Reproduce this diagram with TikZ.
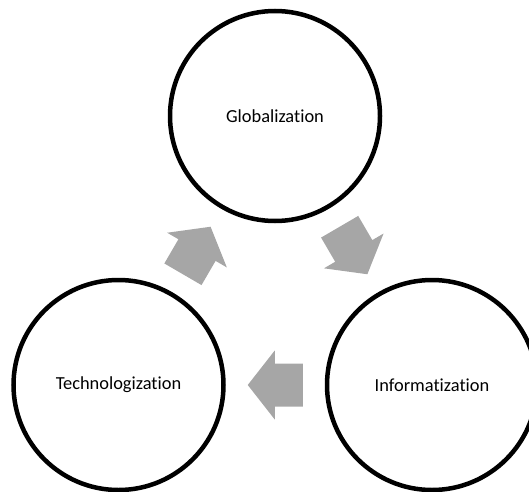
\documentclass[tikz,border=0pt]{standalone}
\usepackage{fontspec}
\setmainfont[Ligatures={NoCommon}]{Carlito}
\usetikzlibrary{calc}
\definecolor{arrowgray}{RGB}{166,166,166}
\tikzset{
  stage/.style={circle, draw=black, line width=4.5pt, minimum size=210pt, inner sep=0pt,
    font=\fontsize{18.4}{22}\selectfont, text=black},
  cyclearrow/.pic={
    \fill[arrowgray] (-27.5,-21.5) -- (0.5,-21.5) -- (0.5,-34.5) -- (27.5,0)
      -- (0.5,34.5) -- (0.5,21.5) -- (-27.5,21.5) -- cycle;
  }
}
\begin{document}
\begin{tikzpicture}[x=1pt,y=1pt]
\useasboundingbox (0,0) rectangle (529,491);
\node[stage] (T) at (275,375) {Globalization};
\node[stage] (L) at (118.5,106) {Technologization};
\node[stage] (R) at (432,106) {Informatization};
\path (L.center) -- (T.center) pic[pos=0.5, sloped, allow upside down] {cyclearrow};
\path (T.center) -- (R.center) pic[pos=0.5, sloped, allow upside down] {cyclearrow};
\path (R.center) -- (L.center) pic[pos=0.5, sloped, allow upside down] {cyclearrow};
\end{tikzpicture}
\end{document}
